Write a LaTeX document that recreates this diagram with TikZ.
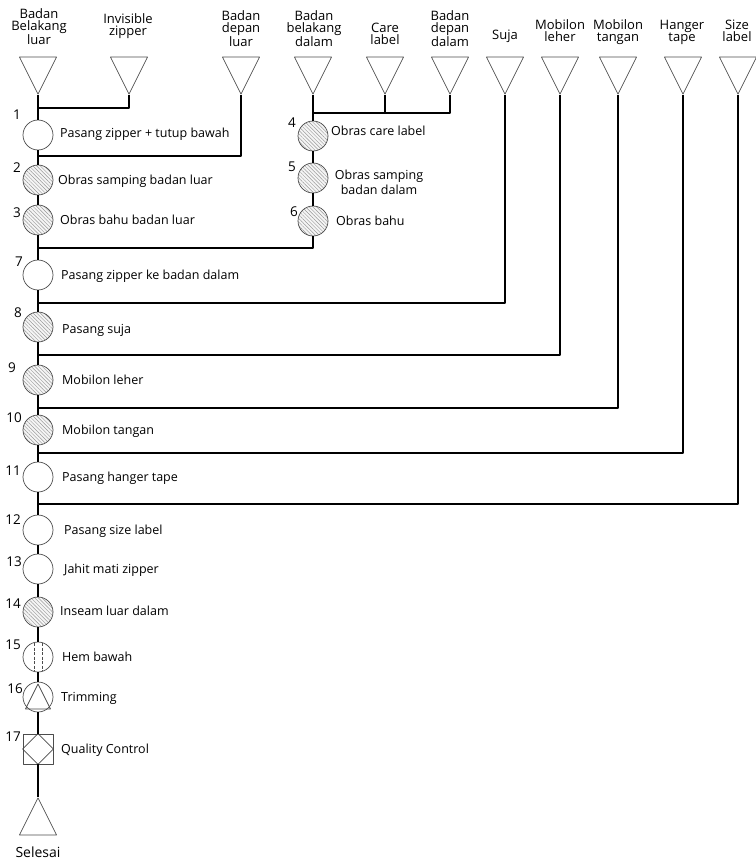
\documentclass[tikz,border=0pt]{standalone}
\usepackage{fontspec}
\setmainfont{Open Sans}
\usetikzlibrary{shapes.geometric, patterns.meta, positioning, calc}

\begin{document}
\begin{tikzpicture}[x=1pt, y=-1pt, line join=round,
    bahan/.style={draw=gray!60!black, line width=0.7pt, isosceles triangle, isosceles triangle stretches,
        shape border rotate=-90, minimum width=37pt, minimum height=37pt, inner sep=0pt},
    op/.style={circle, draw=gray!60!black, line width=0.7pt, fill=white, minimum size=30pt, inner sep=0pt},
    ophatch/.style={op, preaction={fill=gray!8}, pattern={Lines[angle=-45, distance=2.6pt, line width=0.45pt]},
        pattern color=gray!80},
    flow/.style={line width=1.8pt},
    num/.style={font=\fontsize{13.5}{14}\selectfont, inner sep=0pt},
    lbl/.style={font=\fontsize{12.5}{13}\selectfont, inner sep=0pt, anchor=west, text height=9pt, text depth=3pt},
    toplbl/.style={font=\fontsize{13}{12.5}\selectfont, inner sep=0pt, align=center, anchor=south, text depth=0pt}]

    \useasboundingbox (0,0) rectangle (755,861);

    % bahan baku
    \node [bahan, anchor=apex] (t1) at (38,95) {};
    \node [bahan, anchor=apex] (t2) at (129,95) {};
    \node [bahan, anchor=apex] (t3) at (241,95) {};
    \node [bahan, anchor=apex] (t4) at (313,95) {};
    \node [bahan, anchor=apex] (t5) at (385,95) {};
    \node [bahan, anchor=apex] (t6) at (450,95) {};
    \node [bahan, anchor=apex] (t7) at (505,95) {};
    \node [bahan, anchor=apex] (t8) at (560,95) {};
    \node [bahan, anchor=apex] (t9) at (618,95) {};
    \node [bahan, anchor=apex] (t10) at (683,95) {};
    \node [bahan, anchor=apex] (t11) at (738,95) {};

    \node [toplbl] (b1) at (39,45) {Badan\\Belakang\\luar};
    \node [toplbl] (b2) at (128,36) {Invisible\\zipper};
    \node [toplbl] (b3) at (241,47) {Badan\\depan\\luar};
    \node [toplbl] (b4) at (314,47) {Badan\\belakang\\dalam};
    \node [toplbl] (b5) at (385,45) {Care\\label};
    \node [toplbl] (b6) at (450,47) {Badan\\depan\\dalam};
    \node [toplbl] (b7) at (505,40) {Suja};
    \node [toplbl] (b8) at (560,42) {Mobilon\\leher};
    \node [toplbl] (b9) at (618,42) {Mobilon\\tangan};
    \node [toplbl] (b10) at (682,42) {Hanger\\tape};
    \node [toplbl] (b11) at (737,42) {Size\\label};

    % operasi
    \node [op] (n1) at (38,135) {};
    \node [ophatch] (n2) at (38,180) {};
    \node [ophatch] (n3) at (38,220) {};
    \node [ophatch] (n4) at (313,136) {};
    \node [ophatch] (n5) at (313,178) {};
    \node [ophatch] (n6) at (313,221) {};
    \node [op] (n7) at (38,275) {};
    \node [ophatch] (n8) at (38,327) {};
    \node [ophatch] (n9) at (38,380) {};
    \node [ophatch] (n10) at (38,430) {};
    \node [op] (n11) at (38,477) {};
    \node [op] (n12) at (38,530) {};
    \node [op] (n13) at (38,569) {};
    \node [ophatch] (n14) at (38,612) {};
    \node [op] (n15) at (38,657) {};
    \node [op] (n16) at (38,697) {};
    \node [draw=gray!60!black, line width=0.7pt, fill=white, minimum size=30pt, inner sep=0pt] (n17) at (38,749) {};
    \node [bahan, shape border rotate=90, anchor=apex] (fin) at (38,797) {};
    \node [font=\fontsize{14}{14}\selectfont, inner sep=0pt, anchor=base] (selesai) at (38,857) {Selesai};

    \draw [gray!60!black, line width=0.7pt, dash pattern=on 3pt off 1.5pt] ($(n15.center)+(-4,-14)$) -- ($(n15.center)+(-4,14)$);
    \draw [gray!60!black, line width=0.7pt, dash pattern=on 3pt off 1.5pt] ($(n15.center)+(4,-14)$) -- ($(n15.center)+(4,14)$);
    \draw [gray!60!black, line width=0.7pt] ($(n16.center)+(0,-13)$) -- ($(n16.center)+(12.5,12)$) -- ($(n16.center)+(-12.5,12)$) -- cycle;
    \draw [gray!60!black, line width=0.7pt] (n17.north) -- (n17.east) -- (n17.south) -- (n17.west) -- cycle;

    % nomor
    \node [num] (m1) at (17,115) {1};
    \node [num] (m2) at (17,168) {2};
    \node [num] (m3) at (17,213) {3};
    \node [num] (m4) at (292,123) {4};
    \node [num] (m5) at (292,167) {5};
    \node [num] (m6) at (294,212) {6};
    \node [num] (m7) at (19,262) {7};
    \node [num] (m8) at (18,313) {8};
    \node [num] (m9) at (12,368) {9};
    \node [num] (m10) at (14,418) {10};
    \node [num] (m11) at (13,471) {11};
    \node [num] (m12) at (13,520) {12};
    \node [num] (m13) at (14,562) {13};
    \node [num] (m14) at (13,604) {14};
    \node [num] (m15) at (13,645) {15};
    \node [num] (m16) at (15,689) {16};
    \node [num] (m17) at (13,737) {17};

    % keterangan
    \node [lbl] (l1) at (60,135) {Pasang zipper + tutup bawah};
    \node [lbl] (l2) at (58,181) {Obras samping badan luar};
    \node [lbl] (l3) at (60,221) {Obras bahu badan luar};
    \node [lbl] (l4) at (331,133) {Obras care label};
    \node [font=\fontsize{12.5}{15}\selectfont, inner sep=0pt, align=center] (l5) at (379,182) {Obras samping\\badan dalam};
    \node [lbl] (l6) at (336,222) {Obras bahu};
    \node [lbl] (l7) at (61,276) {Pasang zipper ke badan dalam};
    \node [lbl] (l8) at (62,330) {Pasang suja};
    \node [lbl] (l9) at (62,381) {Mobilon leher};
    \node [lbl] (l10) at (62,431) {Mobilon tangan};
    \node [lbl] (l11) at (62,478) {Pasang hanger tape};
    \node [lbl] (l12) at (64,531) {Pasang size label};
    \node [lbl] (l13) at (64,570) {Jahit mati zipper};
    \node [lbl] (l14) at (60,612) {Inseam luar dalam};
    \node [lbl] (l15) at (62,658) {Hem bawah};
    \node [lbl] (l16) at (61,698) {Trimming};
    \node [lbl] (l17) at (61,750) {Quality Control};

    % titik gabung
    \coordinate (j1) at (38,108);
    \coordinate (j2) at (38,156);
    \coordinate (j3) at (38,248);
    \coordinate (j4) at (38,303);
    \coordinate (j5) at (38,355);
    \coordinate (j6) at (38,408);
    \coordinate (j7) at (38,453);
    \coordinate (j8) at (38,504);
    \coordinate (k1) at (313,113);

    \draw [flow] (t1.apex) -- (n1) -- (n2) -- (n3) -- (n7) -- (n8) -- (n9) -- (n10) -- (n11) -- (n12)
        -- (n13) -- (n14) -- (n15) -- (n16) -- (n17) -- (fin.apex);
    \draw [flow] (t4.apex) -- (n4) -- (n5) -- (n6) |- (j3);
    \draw [flow] (t2.apex) |- (j1);
    \draw [flow] (t3.apex) |- (j2);
    \draw [flow] (t5.apex) |- (k1);
    \draw [flow] (t6.apex) |- (k1);
    \draw [flow] (t7.apex) |- (j4);
    \draw [flow] (t8.apex) |- (j5);
    \draw [flow] (t9.apex) |- (j6);
    \draw [flow] (t10.apex) |- (j7);
    \draw [flow] (t11.apex) |- (j8);
\end{tikzpicture}
\end{document}
